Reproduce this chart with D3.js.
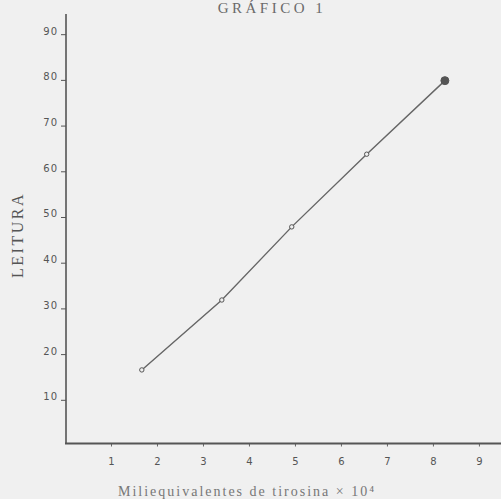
<!DOCTYPE html>
<html>
<head>
<meta charset="utf-8">
<script src="https://cdn.jsdelivr.net/npm/d3@7"></script>
<style>
  body { margin: 0; background: #f0f0f0; }
  svg { display: block; }
</style>
</head>
<body>
<svg id="chart" width="501" height="499"></svg>
<script>
// values (tyrosine meq x 10^4 vs reading)
var xValues = [1.67, 3.41, 4.93, 6.56, 8.26];
var yValues = [16.1, 31.4, 47.4, 63.3, 79.4];
var xTicks = [1, 2, 3, 4, 5, 6, 7, 8, 9];
var yTicks = [10, 20, 30, 40, 50, 60, 70, 80, 90];

var titleText = "GRÁFICO 1";
var xLabel = "Miliequivalentes de tirosina  ×  10⁴";
var yLabel = "LEITURA";

var width = 501, height = 499;
var svg = d3.select("#chart");

svg.append("rect")
    .attr("width", width)
    .attr("height", height)
    .attr("fill", "#f0f0f0");

var x = d3.scaleLinear().domain([0, 9.48]).range([65, 501]);
var y = d3.scaleLinear().domain([0, 94]).range([443.5, 13.9]);

// title
svg.append("text")
    .attr("x", 272)
    .attr("y", 13)
    .attr("text-anchor", "middle")
    .style("font-family", "Liberation Serif, serif")
    .style("font-size", "15px")
    .style("letter-spacing", "3.5px")
    .attr("fill", "#6a6a6a")
    .text(titleText);

// y axis
var yAxis = d3.axisLeft(y).tickValues(yTicks).tickSize(5).tickPadding(3)
    .tickFormat(d3.format("d"));
var gy = svg.append("g")
    .attr("transform", "translate(66,0)")
    .call(yAxis);
gy.select(".domain").remove();
gy.selectAll(".tick line").attr("stroke", "#555").attr("stroke-width", 1)
    .attr("transform", "translate(0,2)");
gy.selectAll(".tick text")
    .style("font-family", "DejaVu Sans, sans-serif")
    .style("font-size", "10px")
    .style("letter-spacing", "1px")
    .attr("fill", "#555")
    .attr("dy", "0.2em");
svg.append("line")
    .attr("x1", 66).attr("x2", 66)
    .attr("y1", y(94)).attr("y2", y(0))
    .attr("stroke", "#555")
    .attr("stroke-width", 1.6);

// x axis
var xAxis = d3.axisBottom(x).tickValues(xTicks).tickSize(3).tickPadding(11)
    .tickFormat(d3.format("d"));
var gx = svg.append("g")
    .attr("transform", "translate(0," + y(0) + ")")
    .call(xAxis);
gx.select(".domain").remove();
gx.selectAll(".tick line").attr("stroke", "#666").attr("stroke-width", 1);
gx.selectAll(".tick text")
    .style("font-family", "DejaVu Sans, sans-serif")
    .style("font-size", "10px")
    .attr("fill", "#555");
svg.append("line")
    .attr("x1", 65).attr("x2", width)
    .attr("y1", y(0)).attr("y2", y(0))
    .attr("stroke", "#555")
    .attr("stroke-width", 1.8);

// axis titles
svg.append("text")
    .attr("transform", "translate(23,235) rotate(-90)")
    .attr("text-anchor", "middle")
    .style("font-family", "Liberation Serif, serif")
    .style("font-size", "16px")
    .style("letter-spacing", "2.5px")
    .attr("fill", "#555")
    .text(yLabel);

svg.append("text")
    .attr("x", 247)
    .attr("y", 496)
    .attr("text-anchor", "middle")
    .style("font-family", "Liberation Serif, serif")
    .style("font-size", "14px")
    .style("letter-spacing", "2px")
    .attr("fill", "#777")
    .text(xLabel);

// line through the points
var pts = xValues.map(function (d, i) { return [d, yValues[i]]; });
var line = d3.line()
    .x(function (d) { return x(d[0]); })
    .y(function (d) { return y(d[1]); });
svg.append("path")
    .datum(pts)
    .attr("d", line)
    .attr("fill", "none")
    .attr("stroke", "#666")
    .attr("stroke-width", 1.4);

svg.selectAll("circle.pt")
    .data(pts)
    .enter()
    .append("circle")
    .attr("class", "pt")
    .attr("cx", function (d) { return x(d[0]); })
    .attr("cy", function (d) { return y(d[1]); })
    .attr("r", function (d, i) { return i == pts.length - 1 ? 4 : 2.2; })
    .attr("fill", function (d, i) { return i == pts.length - 1 ? "#555" : "#f0f0f0"; })
    .attr("stroke", "#555")
    .attr("stroke-width", 1);
</script>
</body>
</html>
